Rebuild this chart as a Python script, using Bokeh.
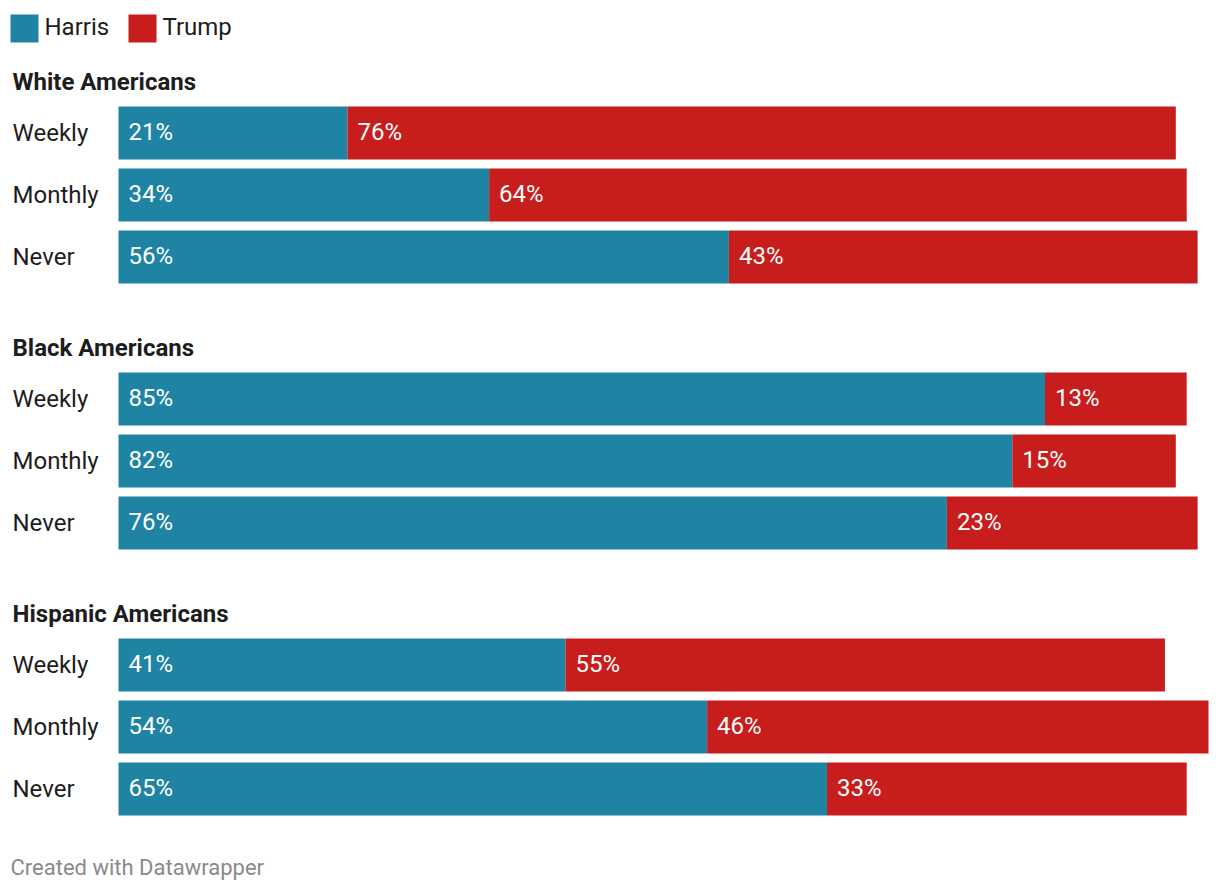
from bokeh.plotting import figure
from bokeh.models import Range1d, ColumnDataSource, Label
from bokeh.core.properties import value
from bokeh.embed import file_html
from bokeh.resources import INLINE

groups = ["White Americans", "Black Americans", "Hispanic Americans"]
rows = ["Weekly", "Monthly", "Never"]
harris = [[21, 34, 56], [85, 82, 76], [41, 54, 65]]
trump = [[76, 64, 43], [13, 15, 23], [55, 46, 33]]
series = ["Harris", "Trump"]
colors = ["#1f83a3", "#c71e1d"]
footer = "Created with Datawrapper"

W, H = 1212, 886
X0 = 118          # px of 0%
PX_PER_PCT = 10.9
FONT = "Roboto"

p = figure(width=W, height=H, output_backend="svg", toolbar_location=None,
           x_range=Range1d(-X0 / PX_PER_PCT, (W - X0) / PX_PER_PCT),
           y_range=Range1d(H, 0), min_border=0)
p.axis.visible = False
p.grid.visible = False
p.outline_line_color = None
p.background_fill_color = "white"
p.border_fill_color = "white"

GROUP_TOP = 106    # top of first bar in group 0 (px)
GROUP_PITCH = 266
ROW_PITCH = 62
BAR_H = 53

ys, hs, ts, rlab = [], [], [], []
for gi, g in enumerate(groups):
    for ri, r in enumerate(rows):
        ys.append(GROUP_TOP + gi * GROUP_PITCH + ri * ROW_PITCH + BAR_H / 2)
        hs.append(harris[gi][ri])
        ts.append(trump[gi][ri])
        rlab.append(r)

src = ColumnDataSource(dict(
    y=ys, h=hs, t=ts, ht=[a + b for a, b in zip(hs, ts)], lab=rlab,
    hl=[f"{v}%" for v in hs], tl=[f"{v}%" for v in ts],
    zero=[0] * len(ys),
))

p.hbar(y="y", left="zero", right="h", height=BAR_H, source=src,
       fill_color=colors[0], line_color=None)
p.hbar(y="y", left="h", right="ht", height=BAR_H, source=src,
       fill_color=colors[1], line_color=None)

p.text(x="zero", y="y", text="hl", source=src, x_offset=10, y_offset=-1,
       text_font=value(FONT), text_font_size="24px", text_color="white",
       text_baseline="middle", text_align="left")
p.text(x="h", y="y", text="tl", source=src, x_offset=10, y_offset=-1,
       text_font=value(FONT), text_font_size="24px", text_color="white",
       text_baseline="middle", text_align="left")
p.text(x="zero", y="y", text="lab", source=src, x_offset=-106, y_offset=0,
       text_font=value(FONT), text_font_size="24px", text_color="#1d1d1d",
       text_baseline="middle", text_align="left")

for gi, g in enumerate(groups):
    p.add_layout(Label(x=12, y=GROUP_TOP + gi * GROUP_PITCH - 25, x_units="screen",
                       text=g, text_font=FONT, text_font_size="24px",
                       text_font_style="bold", text_color="#1d1d1d",
                       text_baseline="middle"))

# legend
lx = [10, 128]
for i, s in enumerate(series):
    p.rect(x=[(lx[i] + 14 - X0) / PX_PER_PCT], y=[28], width=28, height=28,
           width_units="screen", height_units="screen",
           fill_color=colors[i], line_color=None)
    p.add_layout(Label(x=lx[i] + 34, y=26, x_units="screen", text=s,
                       text_font=FONT, text_font_size="24px",
                       text_color="#1d1d1d", text_baseline="middle"))

p.add_layout(Label(x=10, y=867, x_units="screen", text=footer, text_font=FONT,
                   text_font_size="22px", text_color="#8a8a8a",
                   text_baseline="middle"))

open("out.html", "w").write(file_html(p, INLINE))
